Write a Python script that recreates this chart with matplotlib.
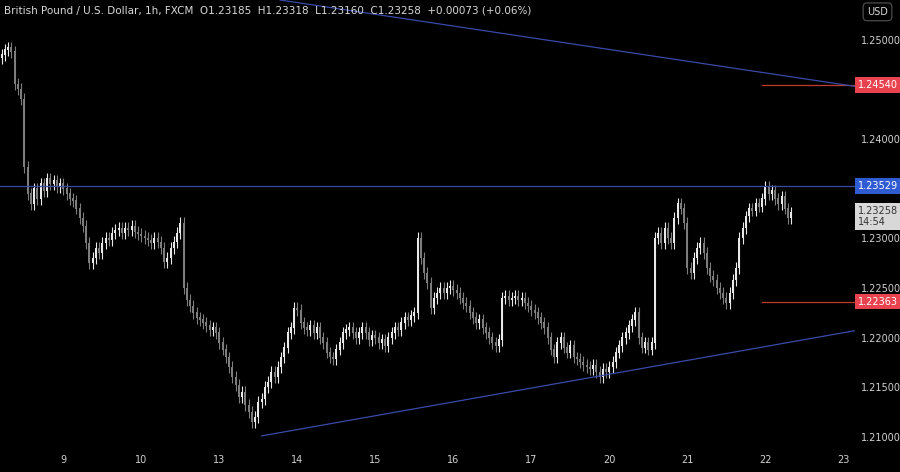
import matplotlib.pyplot as plt
import numpy as np

# hourly closes, one list per trading day
day8 = [1.2485, 1.2490, 1.2492, 1.2488, 1.2455, 1.2450, 1.2440, 1.2372, 1.2345, 1.2335,
        1.2350, 1.2340, 1.2355, 1.2348, 1.2360, 1.2355, 1.2358, 1.2352, 1.2355]
day9 = [1.2350, 1.2345, 1.2340, 1.2338, 1.2330, 1.2320, 1.2312, 1.2295, 1.2275, 1.2280,
        1.2290, 1.2285, 1.2295, 1.2300, 1.2298, 1.2305, 1.2308, 1.2310, 1.2305, 1.2310,
        1.2308, 1.2312, 1.2306, 1.2304]
day10 = [1.2302, 1.2300, 1.2298, 1.2295, 1.2300, 1.2296, 1.2290, 1.2276, 1.2280, 1.2290,
         1.2296, 1.2305, 1.2315, 1.2250, 1.2238, 1.2232, 1.2225, 1.2220, 1.2218, 1.2215,
         1.2212, 1.2208, 1.2210, 1.2205]
day13 = [1.2195, 1.2188, 1.2180, 1.2170, 1.2160, 1.2152, 1.2140, 1.2145, 1.2132, 1.2125,
         1.2115, 1.2120, 1.2135, 1.2138, 1.2150, 1.2155, 1.2165, 1.2160, 1.2170, 1.2180,
         1.2190, 1.2205, 1.2210, 1.2230]
day14 = [1.2228, 1.2215, 1.2210, 1.2208, 1.2212, 1.2205, 1.2210, 1.2200, 1.2195, 1.2185,
         1.2180, 1.2178, 1.2188, 1.2195, 1.2205, 1.2208, 1.2210, 1.2205, 1.2200, 1.2205,
         1.2210, 1.2205, 1.2198, 1.2202]
day15 = [1.2200, 1.2195, 1.2198, 1.2192, 1.2200, 1.2205, 1.2210, 1.2208, 1.2215, 1.2220,
         1.2218, 1.2222, 1.2225, 1.2300, 1.2280, 1.2265, 1.2255, 1.2230, 1.2240, 1.2245,
         1.2250, 1.2245, 1.2250, 1.2252]
day16 = [1.2248, 1.2245, 1.2240, 1.2235, 1.2232, 1.2225, 1.2220, 1.2215, 1.2218, 1.2210,
         1.2205, 1.2200, 1.2195, 1.2192, 1.2198, 1.2240, 1.2242, 1.2238, 1.2240, 1.2242,
         1.2238, 1.2240, 1.2235, 1.2232]
day17 = [1.2228, 1.2225, 1.2220, 1.2215, 1.2210, 1.2200, 1.2188, 1.2180, 1.2195, 1.2200,
         1.2190, 1.2185, 1.2192, 1.2180, 1.2178, 1.2175, 1.2172, 1.2170, 1.2168, 1.2172,
         1.2165, 1.2160, 1.2168, 1.2165]
day20 = [1.2170, 1.2175, 1.2185, 1.2192, 1.2200, 1.2205, 1.2212, 1.2218, 1.2225, 1.2200,
         1.2190, 1.2195, 1.2188, 1.2195, 1.2300, 1.2305, 1.2295, 1.2310, 1.2300, 1.2295,
         1.2320, 1.2335, 1.2330, 1.2315]
day21 = [1.2270, 1.2265, 1.2280, 1.2290, 1.2295, 1.2285, 1.2270, 1.2262, 1.2258, 1.2250,
         1.2245, 1.2240, 1.2235, 1.2245, 1.2258, 1.2270, 1.2300, 1.2310, 1.2322, 1.2330,
         1.2328, 1.2335, 1.2332, 1.2340]
day22 = [1.2352, 1.2345, 1.2348, 1.2340, 1.2335, 1.2342, 1.2330, 1.2320, 1.2326]

days = [day8, day9, day10, day13, day14, day15, day16, day17, day20, day21, day22]
day_labels = ["9", "10", "13", "14", "15", "16", "17", "20", "21", "22", "23"]

resistance = 1.23529
red_levels = [1.24540, 1.22363]
upper_trend = [1.2540, 1.2453]
lower_trend = [1.2101, 1.2207]
yticks = [1.21, 1.215, 1.22, 1.225, 1.23, 1.24, 1.25]

closes = np.concatenate(days)
opens = np.concatenate([[1.2482], closes[:-1]])
idx = np.arange(len(closes))
wick = 0.0006
highs = np.maximum(opens, closes) + wick
lows = np.minimum(opens, closes) - wick

bg = "#000000"
fig = plt.figure(figsize=(9, 4.72), dpi=100, facecolor=bg)
ax = fig.add_axes([0, 0.047, 0.95, 0.953], facecolor=bg)

up = closes >= opens
cols = np.where(up, "#e8e8e8", "#7d7d7d")
ax.vlines(idx, lows, highs, colors=cols, linewidth=0.8)
ax.bar(idx, np.abs(closes - opens) + 0.00003, bottom=np.minimum(opens, closes),
       width=0.65, color=cols, linewidth=0)

xmax = 262.6
ax.axhline(resistance, color="#3a4aa8", linewidth=0.9)
for lv in red_levels:
    ax.plot([234, xmax], [lv, lv], color="#c0392b", linewidth=0.9)
ax.plot([85.7, xmax], upper_trend, color="#3a4aa8", linewidth=0.9)
ax.plot([80, xmax], lower_trend, color="#3a4aa8", linewidth=0.9)

ax.set_xlim(-0.5, xmax)
ax.set_ylim(1.2087, 1.2540)
for s in ax.spines.values():
    s.set_visible(False)

# day ticks
starts = np.cumsum([0] + [len(d) for d in days])
xt = [starts[i] for i in range(1, len(days))] + [starts[-2] + 24]
ax.set_xticks(xt)
ax.set_xticklabels(day_labels)
ax.set_yticks(yticks)
ax.yaxis.tick_right()
ax.set_yticklabels([f"{v:.5f}" for v in yticks], fontsize=7)
ax.tick_params(colors="#d0d0d0", labelsize=7, length=0, pad=4)
ax.tick_params(axis="y", pad=4)

# price tags on right
def tag(y, text, fc, tc="white"):
    ax.text(1.003, y, text, transform=ax.get_yaxis_transform(), fontsize=7, color=tc,
            va="center", ha="left",
            bbox=dict(boxstyle="square,pad=0.3", fc=fc, ec="none"))

tag(resistance, "1.23529", "#2f5bd3")
tag(red_levels[0], "1.24540", "#e8434f")
tag(red_levels[1], "1.22363", "#e8434f")
tag(1.2322, "1.23258\n14:54", "#d8d8d8", tc="#333333")

fig.text(0.005, 0.978, "British Pound / U.S. Dollar, 1h, FXCM  O1.23185  H1.23318  L1.23160  "
         "C1.23258  +0.00073 (+0.06%)", color="#d8d8d8", fontsize=7.5, va="center")
fig.text(0.975, 0.975, "USD", color="#d8d8d8", fontsize=7, va="center", ha="center",
         bbox=dict(boxstyle="round,pad=0.4", fc=bg, ec="#444444"))

fig.savefig("out.png", facecolor=bg)
